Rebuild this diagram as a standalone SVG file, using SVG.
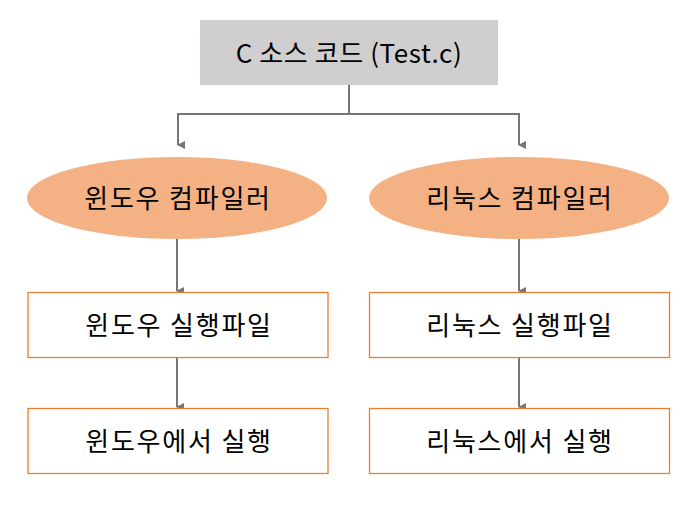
<svg xmlns="http://www.w3.org/2000/svg" width="698" height="507" viewBox="0 0 698 507">
<defs>
<marker id="arr" markerWidth="8" markerHeight="8" refX="4" refY="7" orient="auto" markerUnits="userSpaceOnUse" viewBox="0 0 8 8">
<path d="M0,0 L8,0 L4,8 Z" fill="#767676"/>
</marker>
<style>
text{font-family:"Noto Sans CJK KR","Noto Sans",sans-serif;font-size:26px;fill:#000;text-anchor:middle;letter-spacing:1.8px}
text.top{letter-spacing:0.6px}
.ln{stroke:#767676;stroke-width:2;fill:none}
.bx{fill:#fff;stroke:#ED7D31;stroke-width:1.3}
.el{fill:#F4B183;stroke:none}
</style>
</defs>
<rect width="698" height="507" fill="#fff"/>
<g id="connectors">
<path class="ln" d="M349,85 V114 M178,114 H519"/>
<path class="ln" d="M178,113 V145" marker-end="url(#arr)"/>
<path class="ln" d="M519,113 V145" marker-end="url(#arr)"/>
<path class="ln" d="M177,239 V291" marker-end="url(#arr)"/>
<path class="ln" d="M519,239 V291" marker-end="url(#arr)"/>
<path class="ln" d="M177,358 V407" marker-end="url(#arr)"/>
<path class="ln" d="M519,358 V407" marker-end="url(#arr)"/>
</g>
<g id="source">
<rect x="200" y="20" width="298" height="65" fill="#D0CECE"/>
<text class="top" x="349" y="63">C 소스 코드 (Test.c)</text>
</g>
<g id="win-compiler">
<ellipse class="el" cx="177" cy="198" rx="150" ry="41"/>
<text x="178" y="208">윈도우 컴파일러</text>
</g>
<g id="linux-compiler">
<ellipse class="el" cx="519" cy="198" rx="150" ry="41"/>
<text x="520" y="208">리눅스 컴파일러</text>
</g>
<g id="win-exe">
<rect class="bx" x="28" y="292.5" width="300" height="65"/>
<text x="179" y="335">윈도우 실행파일</text>
</g>
<g id="linux-exe">
<rect class="bx" x="369.5" y="292.5" width="300" height="65"/>
<text x="520" y="335">리눅스 실행파일</text>
</g>
<g id="win-run">
<rect class="bx" x="28" y="408.5" width="300" height="65"/>
<text x="179" y="451">윈도우에서 실행</text>
</g>
<g id="linux-run">
<rect class="bx" x="369.5" y="408.5" width="300" height="65"/>
<text x="520" y="451">리눅스에서 실행</text>
</g>
</svg>
